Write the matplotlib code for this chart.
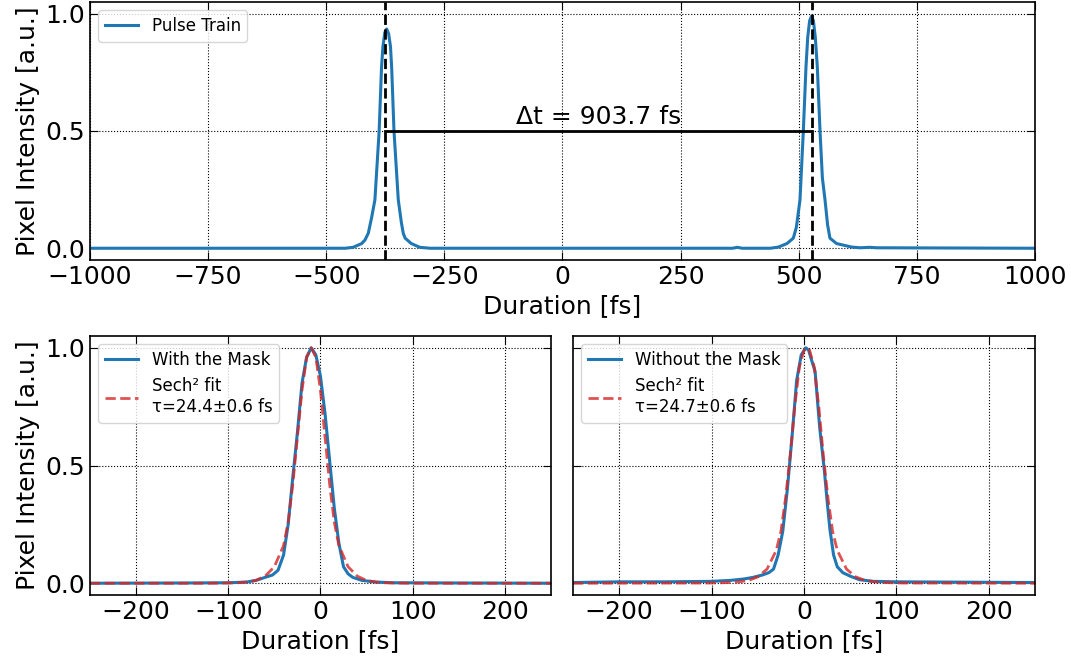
#!/usr/bin/env python
# -*- coding: utf-8 -*-
"""
Pulse train and single pulse profiles with sech^2 fit
"""
import numpy as np
import matplotlib
matplotlib.use("Agg")
import matplotlib.pyplot as plt

#-------------------------------------------------------#
# pulse train (top panel)
train_t = [-1000, -460, -443, -425, -418, -411, -404, -397, -388, -383, -380,
           -376, -372, -368, -364, -361.5, -356.6, -347.5, -341, -337, -333,
           -320, -302, -280, 360, 370, 380, 440, 457, 475, 488.5, 495, 502.6,
           509.7, 515.3, 519, 523, 527, 531, 535, 539.3, 545, 550, 555.6, 561,
           566, 580, 612, 630, 650, 665, 1000]
train_I = [0.0, 0.0, 0.004, 0.02, 0.035, 0.064, 0.13, 0.206, 0.5, 0.77, 0.86,
           0.92, 0.935, 0.915, 0.86, 0.77, 0.5, 0.206, 0.11, 0.064, 0.043,
           0.02, 0.004, 0.0, 0.0, 0.004, 0.0, 0.0, 0.005, 0.02, 0.043, 0.09,
           0.206, 0.5, 0.773, 0.90, 0.97, 0.99, 0.97, 0.90, 0.773, 0.5, 0.3,
           0.206, 0.1, 0.043, 0.02, 0.005, 0.002, 0.004, 0.002, 0.0]
peak_left = -376.0
peak_right = 527.7
dt_label = "\u0394t = 903.7 fs"

# with the mask (bottom left)
mask_t = [-250, -150, -100, -80, -70, -60, -52, -46, -40, -35, -30, -25, -20,
          -15, -10, -5, 0, 5, 10, 15, 20, 25, 30, 35, 45, 60, 80, 150, 250]
mask_I = [0.0, 0.001, 0.002, 0.005, 0.012, 0.025, 0.035, 0.055, 0.12, 0.25,
          0.45, 0.64, 0.85, 0.96, 1.0, 0.97, 0.88, 0.72, 0.52, 0.32, 0.17,
          0.07, 0.04, 0.025, 0.012, 0.005, 0.002, 0.001, 0.0]
mask_fit_t = [-250, -120, -100, -90, -80, -70, -60, -50, -40, -35, -30, -25,
              -20, -15, -10, -5, 0, 5, 10, 15, 20, 30, 40, 50, 60, 70, 80,
              100, 250]
mask_fit_I = [0.0, 0.0, 0.001, 0.002, 0.005, 0.012, 0.03, 0.07, 0.16, 0.26,
              0.42, 0.62, 0.82, 0.96, 1.0, 0.96, 0.82, 0.62, 0.42, 0.26, 0.16,
              0.07, 0.03, 0.012, 0.005, 0.002, 0.001, 0.0, 0.0]
mask_fit_label = "Sech\u00b2 fit\n\u03c4=24.4\u00b10.6 fs"

# without the mask (bottom right)
nomask_t = [-250, -200, -150, -100, -80, -65, -55, -45, -38, -33, -28, -23,
            -18, -13, -8, -3, 2, 5, 8, 12, 17, 22, 25, 28, 32, 36, 42, 50, 60,
            75, 100, 150, 200, 250]
nomask_I = [0.003, 0.006, 0.006, 0.008, 0.012, 0.018, 0.025, 0.035, 0.045,
            0.06, 0.12, 0.22, 0.40, 0.62, 0.86, 0.97, 1.0, 0.99, 0.95, 0.90,
            0.66, 0.48, 0.35, 0.23, 0.12, 0.07, 0.045, 0.03, 0.015, 0.008,
            0.006, 0.005, 0.004, 0.003]
nomask_fit_t = [-250, -100, -80, -70, -60, -50, -40, -30, -25, -20, -15, -10,
                -5, 0, 3, 6, 11, 16, 21, 26, 31, 36, 46, 56, 66, 76, 86, 106,
                250]
nomask_fit_I = [0.0, 0.001, 0.003, 0.006, 0.012, 0.027, 0.06, 0.14, 0.22,
                0.36, 0.54, 0.75, 0.92, 0.99, 1.0, 0.99, 0.92, 0.75, 0.54,
                0.36, 0.22, 0.14, 0.06, 0.027, 0.012, 0.006, 0.003, 0.001, 0.0]
nomask_fit_label = "Sech\u00b2 fit\n\u03c4=24.7\u00b10.6 fs"

ylabel = "Pixel Intensity [a.u.]"
xlabel = "Duration [fs]"
#-------------------------------------------------------#

plt.rcParams["font.size"] = 18
plt.rcParams["xtick.direction"] = "in"
plt.rcParams["ytick.direction"] = "in"
plt.rcParams["xtick.top"] = True
plt.rcParams["ytick.right"] = True
plt.rcParams["xtick.major.size"] = 6
plt.rcParams["ytick.major.size"] = 6

BLUE = "tab:blue"


#-------------------------------------------------------#
def style_axes(ax):
    ax.grid(True, linestyle=":", color="black", linewidth=0.8)
    ax.set_ylim(-0.05, 1.05)
    ax.set_yticks([0.0, 0.5, 1.0])
    for s in ax.spines.values():
        s.set_linewidth(1.2)
#-------------------------------------------------------#


#-------------------------------------------------------#
def make_graph():
    fig = plt.figure(figsize=(10.71, 6.62), dpi=100)
    ax0 = fig.add_axes([0.0840, 0.6073, 0.8824, 0.3897])
    ax1 = fig.add_axes([0.0840, 0.1012, 0.4304, 0.3912])
    ax2 = fig.add_axes([0.5350, 0.1012, 0.4314, 0.3912], sharey=ax1)

    # 上段: パルス列
    ax0.plot(train_t, train_I, color=BLUE, lw=2.2, label="Pulse Train")
    ax0.axvline(peak_left, color="black", ls="--", lw=2)
    ax0.axvline(peak_right, color="black", ls="--", lw=2)
    ax0.plot([peak_left, peak_right], [0.5, 0.5], color="black", lw=2)
    ax0.text((peak_left + peak_right) / 2, 0.51, dt_label,
             ha="center", va="bottom", fontsize=18)
    ax0.set_xlim(-1000, 1000)
    ax0.set_xticks(np.arange(-1000, 1001, 250))
    ax0.set_xlabel(xlabel)
    ax0.set_ylabel(ylabel)
    style_axes(ax0)
    ax0.legend(loc="upper left", fontsize=12)

    # 下段左: マスクあり
    ax1.plot(mask_t, mask_I, color=BLUE, lw=2.2, label="With the Mask")
    ax1.plot(mask_fit_t, mask_fit_I, color="tab:red", ls="--", lw=2,
             alpha=0.8, label=mask_fit_label)
    ax1.set_ylabel(ylabel)

    # 下段右: マスクなし
    ax2.plot(nomask_t, nomask_I, color=BLUE, lw=2.2, label="Without the Mask")
    ax2.plot(nomask_fit_t, nomask_fit_I, color="tab:red", ls="--", lw=2,
             alpha=0.8, label=nomask_fit_label)
    ax2.tick_params(labelleft=False)

    for ax in (ax1, ax2):
        ax.set_xlim(-250, 250)
        ax.set_xticks([-200, -100, 0, 100, 200])
        ax.set_xlabel(xlabel)
        style_axes(ax)
        ax.legend(loc="upper left", fontsize=12)

    fig.savefig("out.png", dpi=100)
#-------------------------------------------------------#


if __name__ == '__main__':
    make_graph()
